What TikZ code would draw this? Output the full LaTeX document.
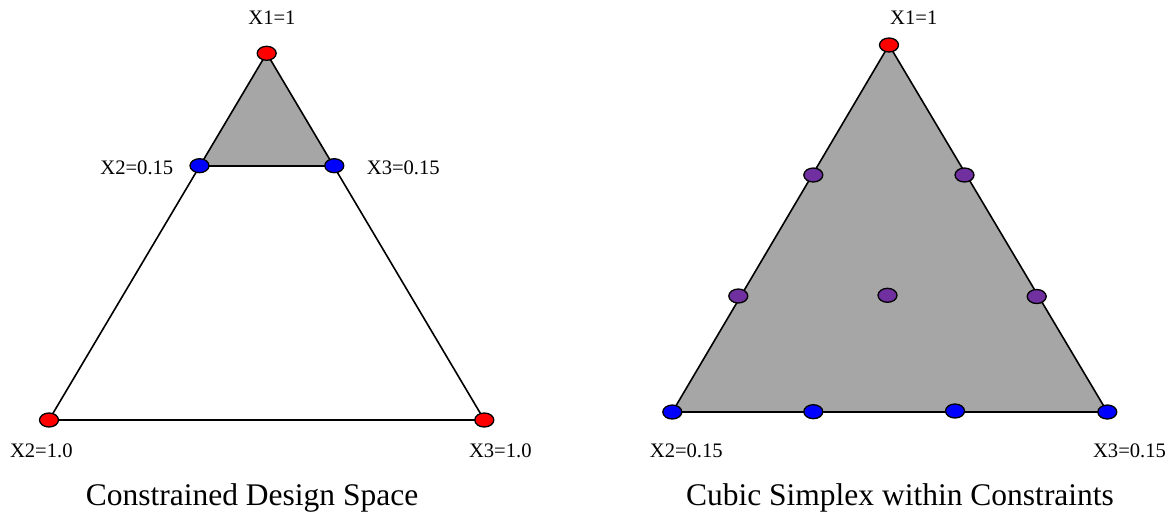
\documentclass[tikz,border=0pt]{standalone}
\usepackage{fontspec}
\setmainfont{Liberation Serif}
\usetikzlibrary{shapes.geometric}
\definecolor{fillgray}{RGB}{166,166,166}
\definecolor{dotred}{RGB}{255,0,0}
\definecolor{dotblue}{RGB}{0,0,255}
\definecolor{dotpurple}{RGB}{112,48,160}
\tikzset{
  dot/.style={ellipse, draw=black, line width=1.3pt, minimum width=19pt, minimum height=14pt, inner sep=0pt},
  reddot/.style={dot, fill=dotred},
  bluedot/.style={dot, fill=dotblue},
  purpledot/.style={dot, fill=dotpurple},
  edge/.style={draw=black, line width=1.6pt},
  lbl/.style={inner sep=0pt, font=\fontsize{20.6}{24}\selectfont},
  ttl/.style={inner sep=0pt, font=\fontsize{31.5}{36}\selectfont},
}
\begin{document}
\begin{tikzpicture}[x=1pt,y=-1pt]
\useasboundingbox (0,0) rectangle (1172,519);
% ---------- left panel ----------
\coordinate (LT) at (266.7,53.3);
\coordinate (LA) at (199.5,165.7);
\coordinate (LB) at (334.3,165.7);
\coordinate (LL) at (49,420);
\coordinate (LR) at (484.3,420);
\fill[fillgray] (LT) -- (LA) -- (LB) -- cycle;
\draw[edge] (LT) -- (LL) -- (LR) -- cycle;
\draw[edge] (LA) -- (LB);
\node[reddot] (lt) at (LT) {};
\node[bluedot] (la) at (LA) {};
\node[bluedot] (lb) at (LB) {};
\node[reddot] (ll) at (LL) {};
\node[reddot] (lr) at (LR) {};
\node[lbl, anchor=base] (ltx) at (272,25) {X1=1};
\node[lbl, anchor=base east] (lax) at (173.5,174.3) {X2=0.15};
\node[lbl, anchor=base west] (lbx) at (366.7,174.3) {X3=0.15};
\node[lbl, anchor=base] (llx) at (41.3,457.5) {X2=1.0};
\node[lbl, anchor=base] (lrx) at (500.3,457.5) {X3=1.0};
\node[ttl, anchor=base] (ltitle) at (252,505) {Constrained Design Space};
% ---------- right panel ----------
\coordinate (RT) at (889,45);
\coordinate (RL) at (672.3,412);
\coordinate (RR) at (1107.3,412);
\filldraw[edge, fill=fillgray] (RT) -- (RL) -- (RR) -- cycle;
\node[reddot] (rt) at (RT) {};
\node[purpledot] (p1) at (813.3,175) {};
\node[purpledot] (p2) at (964.5,175) {};
\node[purpledot] (p3) at (738.3,296) {};
\node[purpledot] (p4) at (887.5,295.3) {};
\node[purpledot] (p5) at (1036.7,296.5) {};
\node[bluedot] (rl) at (RL) {};
\node[bluedot] (b1) at (813.3,411.7) {};
\node[bluedot] (b2) at (955,411) {};
\node[bluedot] (rr) at (RR) {};
\node[lbl, anchor=base west] (rtx) at (890,25) {X1=1};
\node[lbl, anchor=base] (rlx) at (686.3,457.3) {X2=0.15};
\node[lbl, anchor=base] (rrx) at (1129.5,457.3) {X3=0.15};
\node[ttl, anchor=base] (rtitle) at (900,505) {Cubic Simplex within Constraints};
\end{tikzpicture}
\end{document}
